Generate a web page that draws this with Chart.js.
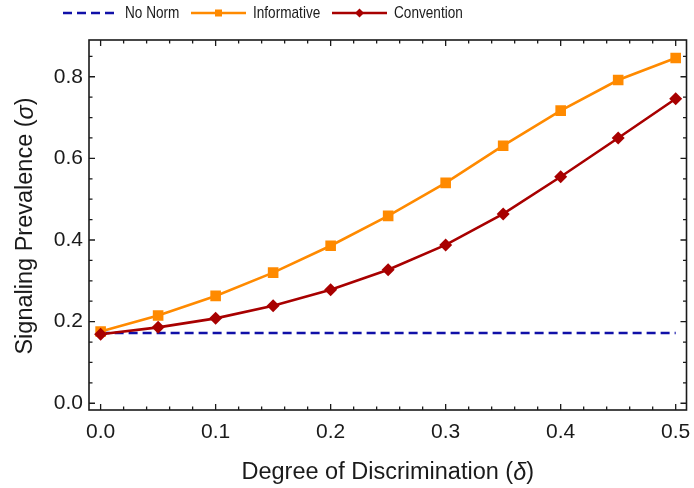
<!DOCTYPE html>
<html>
<head>
<meta charset="utf-8">
<script src="https://cdn.jsdelivr.net/npm/chart.js@4.4.0/dist/chart.umd.min.js"></script>
<style>
  html, body { margin: 0; padding: 0; background: #fff; }
  #wrap { width: 694px; height: 488px; }
</style>
</head>
<body>
<div id="wrap"><canvas id="prevalenceChart" width="694" height="488"></canvas></div>
<script>
// Data
const deltas = [0, 0.05, 0.1, 0.15, 0.2, 0.25, 0.3, 0.35, 0.4, 0.45, 0.5];
const noNorm = [0.172, 0.172, 0.172, 0.172, 0.172, 0.172, 0.172, 0.172, 0.172, 0.172, 0.172];
const informative = [0.176, 0.215, 0.263, 0.320, 0.386, 0.459, 0.540, 0.631, 0.717, 0.792, 0.846];
const convention = [0.169, 0.186, 0.208, 0.239, 0.278, 0.327, 0.388, 0.464, 0.555, 0.650, 0.746];

const xTicks = [0, 0.1, 0.2, 0.3, 0.4, 0.5];
const xTickLabels = ['0.0', '0.1', '0.2', '0.3', '0.4', '0.5'];
const yTicks = [0, 0.2, 0.4, 0.6, 0.8];
const yTickLabels = ['0.0', '0.2', '0.4', '0.6', '0.8'];
const xMinorStep = 0.02;
const yMinorStep = 0.05;

const BLUE = '#1010a8';
const ORANGE = '#ff8a00';
const RED = '#a80000';
const FONT = '"Liberation Sans", Arial, sans-serif';

const toPoints = vals => vals.map((v, i) => ({ x: deltas[i], y: v }));

// draw a string made of normal / italic pieces, centred on (cx, cy)
function drawParts(ctx, parts, cx, cy, size) {
    let total = 0;
    parts.forEach(p => {
        ctx.font = (p.italic ? 'italic ' : '') + size + 'px ' + FONT;
        p.w = ctx.measureText(p.t).width;
        total += p.w;
    });
    let x = cx - total / 2;
    ctx.textAlign = 'left';
    ctx.textBaseline = 'middle';
    parts.forEach(p => {
        ctx.font = (p.italic ? 'italic ' : '') + size + 'px ' + FONT;
        ctx.fillText(p.t, x, cy);
        x += p.w;
    });
}

// legend text is a condensed face in the original
function narrowText(ctx, text, x, y) {
    ctx.save();
    ctx.translate(x, y);
    ctx.scale(0.8, 1);
    ctx.fillText(text, 0, 0);
    ctx.restore();
}

const framePlugin = {
    id: 'frame',
    afterDraw(chart) {
        const ctx = chart.ctx;
        const area = chart.chartArea;
        const xs = chart.scales.x;
        const ys = chart.scales.y;
        ctx.save();

        // frame
        ctx.strokeStyle = '#1a1a1a';
        ctx.lineWidth = 1.6;
        ctx.strokeRect(area.left, area.top, area.right - area.left, area.bottom - area.top);

        // inward ticks on all four sides
        ctx.lineWidth = 1.3;
        ctx.beginPath();
        for (let i = 0; i * xMinorStep <= 0.5 + 1e-9; i++) {
            const v = i * xMinorStep;
            const major = Math.abs(v * 10 - Math.round(v * 10)) < 1e-6;
            const len = major ? 6 : 3.5;
            const px = xs.getPixelForValue(v);
            ctx.moveTo(px, area.bottom); ctx.lineTo(px, area.bottom - len);
            ctx.moveTo(px, area.top); ctx.lineTo(px, area.top + len);
        }
        for (let i = 0; i * yMinorStep <= 0.85 + 1e-9; i++) {
            const v = i * yMinorStep;
            const major = Math.abs(v * 5 - Math.round(v * 5)) < 1e-6;
            const len = major ? 6 : 3.5;
            const py = ys.getPixelForValue(v);
            ctx.moveTo(area.left, py); ctx.lineTo(area.left + len, py);
            ctx.moveTo(area.right, py); ctx.lineTo(area.right - len, py);
        }
        ctx.stroke();

        // tick labels
        ctx.fillStyle = '#1a1a1a';
        ctx.font = '21px ' + FONT;
        ctx.textAlign = 'center';
        ctx.textBaseline = 'middle';
        xTicks.forEach((v, i) => ctx.fillText(xTickLabels[i], xs.getPixelForValue(v), 432));
        ctx.textAlign = 'right';
        yTicks.forEach((v, i) => ctx.fillText(yTickLabels[i], 83, ys.getPixelForValue(v)));

        // axis titles
        drawParts(ctx, [{ t: 'Degree of Discrimination (' }, { t: 'δ', italic: true }, { t: ')' }],
            (area.left + area.right) / 2, 473, 23.5);
        ctx.save();
        ctx.translate(26, (area.top + area.bottom) / 2 + 1);
        ctx.rotate(-Math.PI / 2);
        drawParts(ctx, [{ t: 'Signaling Prevalence (' }, { t: 'σ', italic: true }, { t: ')' }], 0, 0, 23.5);
        ctx.restore();

        // legend
        const ly = 13;
        ctx.lineWidth = 2.6;
        ctx.strokeStyle = BLUE;
        ctx.setLineDash([9, 5]);
        ctx.beginPath(); ctx.moveTo(63, ly); ctx.lineTo(116, ly); ctx.stroke();
        ctx.setLineDash([]);
        ctx.strokeStyle = ORANGE;
        ctx.beginPath(); ctx.moveTo(191, ly); ctx.lineTo(246, ly); ctx.stroke();
        ctx.fillStyle = ORANGE;
        ctx.fillRect(218.5 - 3.5, ly - 3.5, 7, 7);
        ctx.strokeStyle = RED;
        ctx.beginPath(); ctx.moveTo(332, ly); ctx.lineTo(387, ly); ctx.stroke();
        ctx.fillStyle = RED;
        ctx.beginPath();
        ctx.moveTo(359.5, ly - 4.5); ctx.lineTo(364, ly); ctx.lineTo(359.5, ly + 4.5); ctx.lineTo(355, ly);
        ctx.closePath(); ctx.fill();

        ctx.fillStyle = '#1a1a1a';
        ctx.font = '17px ' + FONT;
        ctx.textAlign = 'left';
        ctx.textBaseline = 'middle';
        narrowText(ctx, 'No Norm', 125, ly);
        narrowText(ctx, 'Informative', 253, ly);
        narrowText(ctx, 'Convention', 394, ly);
        ctx.restore();
    }
};

new Chart(document.getElementById('prevalenceChart'), {
    type: 'line',
    data: {
        datasets: [
            {
                label: 'Convention',
                data: toPoints(convention),
                borderColor: RED,
                backgroundColor: RED,
                borderWidth: 2.6,
                pointStyle: 'rectRot',
                pointRadius: 6.5,
                pointBorderWidth: 0,
                pointBackgroundColor: RED
            },
            {
                label: 'Informative',
                data: toPoints(informative),
                borderColor: ORANGE,
                backgroundColor: ORANGE,
                borderWidth: 2.6,
                pointStyle: 'rect',
                pointRadius: 7.5,
                pointBorderWidth: 0,
                pointBackgroundColor: ORANGE
            },
            {
                label: 'No Norm',
                data: toPoints(noNorm),
                borderColor: BLUE,
                borderWidth: 2.6,
                borderDash: [9, 5],
                pointRadius: 0
            }
        ]
    },
    options: {
        responsive: false,
        animation: false,
        layout: { padding: { left: 89, top: 40, right: 5, bottom: 78 } },
        plugins: {
            legend: { display: false },
            tooltip: { enabled: false }
        },
        scales: {
            x: { type: 'linear', display: false, min: -0.0101, max: 0.5094 },
            y: { type: 'linear', display: false, min: -0.0165, max: 0.89 }
        }
    },
    plugins: [framePlugin]
});
</script>
</body>
</html>
